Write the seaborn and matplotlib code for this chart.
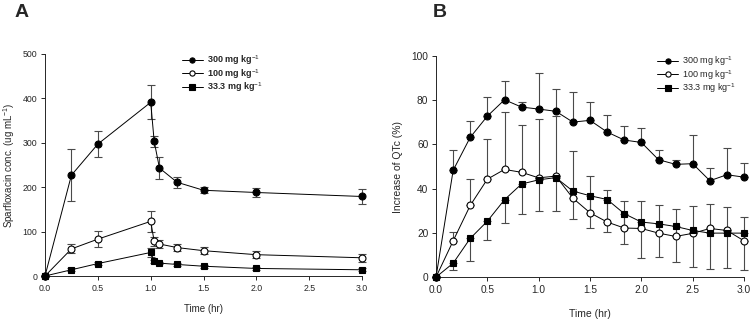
import numpy as np
import seaborn as sns
import matplotlib.pyplot as plt

# panel A: plasma concentration
time_a = [0.0, 0.25, 0.5, 1.0, 1.033, 1.083, 1.25, 1.5, 2.0, 3.0]
conc_300 = [0, 227, 297, 391, 303, 243, 211, 193, 188, 179]
err_300 = [0, 59, 29, 38, 12, 25, 13, 7, 11, 18]
conc_100 = [0, 61, 83, 123, 78, 72, 64, 57, 48, 41]
err_100 = [0, 10, 18, 24, 10, 8, 8, 8, 8, 9]
conc_33 = [0, 14, 28, 53, 33, 29, 26, 22, 17, 14]
err_33 = [0, 3, 3, 10, 4, 3, 3, 3, 3, 3]

# panel B: QTc increase
time_b = [0.0, 0.167, 0.333, 0.5, 0.667, 0.833, 1.0, 1.167, 1.333, 1.5,
          1.667, 1.833, 2.0, 2.167, 2.333, 2.5, 2.667, 2.833, 3.0]
qtc_300 = [0, 48.3, 63.2, 72.8, 80.2, 76.9, 76.0, 75.0, 70.1, 70.9,
           65.6, 62.0, 60.9, 53.1, 51.0, 51.3, 43.6, 46.3, 45.2]
qtc_300_up = [0, 9.3, 7.4, 8.8, 8.6, 2.1, 16.5, 10.0, 13.6, 8.4,
              7.7, 6.3, 6.7, 4.4, 1.9, 13.0, 5.9, 12.2, 6.5]
qtc_100 = [0, 16.4, 32.4, 44.3, 48.7, 47.4, 44.9, 45.7, 35.7, 29.1,
           24.9, 22.2, 22.0, 19.9, 18.4, 19.8, 22.0, 21.1, 16.4]
qtc_100_up = [0, 4.1, 11.8, 18.3, 25.8, 21.5, 26.6, 27.0, 21.3, 16.7,
              14.7, 12.3, 12.2, 12.9, 12.4, 12.2, 11.0, 10.4, 10.6]
qtc_33 = [0, 6.3, 17.5, 25.3, 35.0, 42.1, 44.0, 45.0, 38.9, 36.8,
          35.1, 28.7, 24.9, 24.1, 22.9, 21.1, 19.9, 19.9, 19.9]
qtc_33_down = [0, 3.3, 10.4, 8.3, 10.7, 13.7, 14.1, 15.0, 12.4, 14.8,
               14.6, 13.7, 16.4, 15.2, 15.9, 16.6, 16.4, 15.9, 16.9]

labels = ["300 mg kg$^{-1}$", "100 mg kg$^{-1}$", "33.3 mg kg$^{-1}$"]
markers = ["o", "o", "s"]
faces = ["black", "white", "black"]

sns.set_style("ticks")
plt.rcParams["font.family"] = ["Liberation Sans", "DejaVu Sans"]
plt.rcParams["mathtext.fontset"] = "custom"
plt.rcParams["mathtext.rm"] = "Liberation Sans"
plt.rcParams["mathtext.bf"] = "Liberation Sans:bold"

fig = plt.figure(figsize=(7.55, 3.2), dpi=100)
ax_a = fig.add_axes([0.0596, 0.1375, 0.42, 0.694])
ax_b = fig.add_axes([0.5775, 0.134, 0.408, 0.691])

ebar_kw = dict(fmt="none", ecolor="#4a4a4a", elinewidth=0.8, capsize=2.8,
               capthick=0.8, zorder=2, clip_on=False)


def draw_series(ax, t, y, err, label, marker, face):
    ax.errorbar(t, y, yerr=err, **ebar_kw)
    sns.lineplot(x=t, y=y, ax=ax, color="black", lw=0.7, marker=marker,
                 markersize=5, markerfacecolor=face, markeredgecolor="black",
                 markeredgewidth=0.8, label=label, zorder=3, clip_on=False)


draw_series(ax_a, time_a, conc_300, err_300, labels[0], markers[0], faces[0])
draw_series(ax_a, time_a, conc_100, err_100, labels[1], markers[1], faces[1])
draw_series(ax_a, time_a, conc_33, err_33, labels[2], markers[2], faces[2])

zeros_b = [0] * len(time_b)
draw_series(ax_b, time_b, qtc_300, [zeros_b, qtc_300_up], labels[0], markers[0], faces[0])
draw_series(ax_b, time_b, qtc_100, [zeros_b, qtc_100_up], labels[1], markers[1], faces[1])
draw_series(ax_b, time_b, qtc_33, [qtc_33_down, zeros_b], labels[2], markers[2], faces[2])

for ax, ymax, ystep, tsize, lsize, lpad in [(ax_a, 500, 100, 6.3, 7, 8),
                                            (ax_b, 100, 20, 7.3, 7.5, 10)]:
    ax.set_xlim(0, 3)
    ax.set_ylim(0, ymax)
    ax.set_xticks(np.arange(0, 3.01, 0.5))
    ax.set_xticklabels([f"{v:.1f}" for v in np.arange(0, 3.01, 0.5)])
    ax.set_yticks(np.arange(0, ymax + 1, ystep))
    ax.tick_params(labelsize=tsize, length=3, width=0.7, direction="out", pad=2.5)
    sns.despine(ax=ax)
    for s in ["left", "bottom"]:
        ax.spines[s].set_linewidth(0.7)
    ax.set_xlabel("Time (hr)", fontsize=lsize, labelpad=lpad)

ax_a.set_ylabel("Sparfloxacin conc. (ug mL$^{-1}$)", fontsize=7, labelpad=4)
ax_b.set_ylabel("Increase of QTc (%)", fontsize=7.5, labelpad=6)

ax_a.legend(loc="upper left", bbox_to_anchor=(0.405, 1.04), frameon=False,
            prop={"size": 6.5, "weight": "bold"}, handlelength=2.4,
            handletextpad=0.4, labelspacing=0.0, markerscale=0.75)
ax_b.legend(loc="upper left", bbox_to_anchor=(0.69, 1.045), frameon=False,
            prop={"size": 6.5}, handlelength=2.4,
            handletextpad=0.4, labelspacing=0.0, markerscale=0.75)

fig.text(15 / 755, 1 - 17 / 320, "A", fontsize=14, fontweight="bold")
fig.text(433 / 755, 1 - 17 / 320, "B", fontsize=14, fontweight="bold")

plt.savefig("out.png", dpi=100)
